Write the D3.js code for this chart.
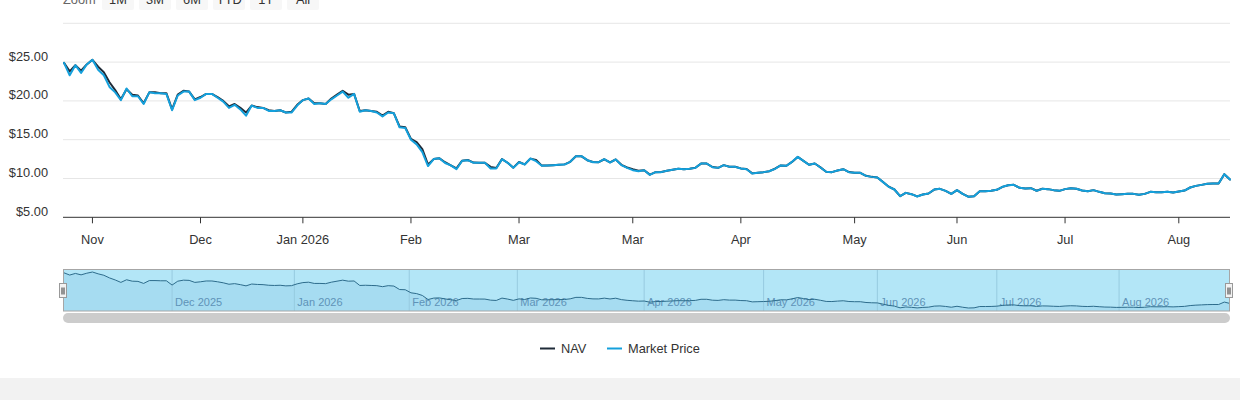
<!DOCTYPE html>
<html>
<head>
<meta charset="utf-8">
<script src="https://cdn.jsdelivr.net/npm/d3@7"></script>
<style>
    html, body { margin: 0; padding: 0; background: #ffffff; }
    #chart { width: 1240px; height: 400px; }
    text { font-family: "Liberation Sans", Arial, sans-serif; }
</style>
</head>
<body>
<div id="chart"></div>
<script>
// ----- DATI (un punto per giorno di borsa) -----
const marketPrice = [
    24.9, 23.3, 24.6, 23.6, 24.7, 25.3, 24.0, 23.3, 21.8, 21.1,
    20.1, 21.6, 20.6, 20.6, 19.6, 21.1, 21.0, 21.0, 20.9, 18.8,
    20.7, 21.2, 21.2, 20.1, 20.4, 20.9, 20.9, 20.4, 19.9, 19.1,
    19.5, 18.9, 18.1, 19.4, 19.1, 19.1, 18.7, 18.7, 18.8, 18.5,
    18.5, 19.4, 20.1, 20.3, 19.6, 19.7, 19.6, 20.2, 20.7, 21.2,
    20.4, 20.9, 18.6, 18.8, 18.7, 18.5, 18.0, 18.5, 18.4, 16.6,
    16.5, 15.0, 14.4, 13.4, 11.6, 12.5, 12.6, 12.0, 11.7, 11.2,
    12.28, 12.36, 12.02, 12.02, 12.02, 11.29, 11.29, 12.49, 12.02, 11.37,
    12.10, 11.80, 12.58, 12.23, 11.63, 11.68, 11.72, 11.76, 11.80, 12.15,
    12.88, 12.88, 12.36, 12.10, 12.10, 12.49, 12.06, 12.45, 11.72, 11.37,
    11.07, 10.94, 11.07, 10.47, 10.82, 10.82, 10.99, 11.12, 11.25, 11.20,
    11.25, 11.37, 11.93, 11.93, 11.46, 11.37, 11.72, 11.50, 11.50, 11.29,
    11.20, 10.64, 10.73, 10.82, 10.94, 11.25, 11.68, 11.63, 12.15, 12.79,
    12.28, 11.76, 11.93, 11.42, 10.86, 10.82, 11.03, 11.20, 10.82, 10.73,
    10.73, 10.34, 10.21, 10.13, 9.53, 8.93, 8.58, 7.72, 8.15, 7.98,
    7.68, 7.94, 8.07, 8.58, 8.67, 8.41, 8.02, 8.50, 8.02, 7.64,
    7.72, 8.37, 8.37, 8.41, 8.54, 8.93, 9.14, 9.18, 8.80, 8.71,
    8.75, 8.41, 8.67, 8.63, 8.50, 8.41, 8.63, 8.75, 8.67, 8.45,
    8.37, 8.50, 8.28, 8.11, 8.07, 7.94, 7.98, 8.02, 8.02, 7.90,
    8.02, 8.28, 8.24, 8.24, 8.28, 8.20, 8.32, 8.45, 8.84, 9.05,
    9.18, 9.31, 9.36, 9.36, 10.56, 9.87
];

const navValues = [
    24.9, 23.8, 24.6, 23.9, 24.7, 25.3, 24.4, 23.7, 22.4, 21.4,
    20.2, 21.5, 20.8, 20.7, 19.7, 21.1, 21.1, 21.0, 21.0, 18.9,
    20.8, 21.3, 21.2, 20.2, 20.5, 20.9, 20.9, 20.5, 20.0, 19.3,
    19.6, 19.1, 18.5, 19.4, 19.2, 19.1, 18.8, 18.7, 18.8, 18.5,
    18.6, 19.5, 20.1, 20.3, 19.7, 19.7, 19.6, 20.3, 20.8, 21.3,
    20.8, 20.9, 18.7, 18.8, 18.7, 18.6, 18.1, 18.6, 18.4, 16.7,
    16.6, 15.1, 14.7, 13.8, 11.8, 12.5, 12.6, 12.1, 11.7, 11.3,
    12.30, 12.38, 12.05, 12.04, 12.02, 11.50, 11.35, 12.50, 12.03, 11.40,
    12.12, 11.82, 12.56, 12.40, 11.66, 11.68, 11.72, 11.77, 11.82, 12.15,
    12.86, 12.86, 12.36, 12.12, 12.10, 12.48, 12.08, 12.45, 11.76, 11.42,
    11.20, 11.00, 11.07, 10.50, 10.82, 10.84, 10.99, 11.12, 11.26, 11.20,
    11.26, 11.38, 11.92, 11.92, 11.48, 11.38, 11.72, 11.52, 11.52, 11.30,
    11.22, 10.66, 10.74, 10.82, 10.94, 11.26, 11.68, 11.64, 12.14, 12.78,
    12.28, 11.77, 11.93, 11.43, 10.87, 10.82, 11.03, 11.20, 10.83, 10.73,
    10.73, 10.35, 10.21, 10.14, 9.54, 8.94, 8.58, 7.73, 8.15, 7.98,
    7.69, 7.94, 8.07, 8.57, 8.67, 8.41, 8.03, 8.50, 8.03, 7.65,
    7.72, 8.37, 8.37, 8.41, 8.54, 8.92, 9.13, 9.18, 8.80, 8.71,
    8.75, 8.42, 8.67, 8.63, 8.50, 8.41, 8.63, 8.75, 8.67, 8.45,
    8.37, 8.50, 8.28, 8.11, 8.07, 7.94, 7.98, 8.02, 8.02, 7.90,
    8.02, 8.28, 8.24, 8.24, 8.28, 8.20, 8.32, 8.45, 8.84, 9.05,
    9.18, 9.31, 9.36, 9.36, 10.56, 9.87
];

// assi
const yTicks = [5, 10, 15, 20, 25, 30];
const xTickIdx = [5, 24, 42, 61, 80, 100, 119, 139, 157, 176, 196];
const xTickLabels = ['Nov', 'Dec', 'Jan 2026', 'Feb', 'Mar', 'Mar', 'Apr', 'May', 'Jun', 'Jul', 'Aug'];

// navigator
const navMonthIdx = [19, 40.5, 60.7, 79.7, 102, 123, 143, 164, 185.5];
const navMonthLabels = ['Dec 2025', 'Jan 2026', 'Feb 2026', 'Mar 2026', 'Apr 2026', 'May 2026', 'Jun 2026', 'Jul 2026', 'Aug 2026'];

const zoomButtons = ['1M', '3M', '6M', 'YTD', '1Y', 'All'];
const seriesNames = ['NAV', 'Market Price'];
const seriesColors = ['#1f2b38', '#14a0dc'];

// ----- COSTRUZIONE -----
const W = 1240, H = 400;
const plotLeft = 63, plotRight = 1230, plotTop = 23.3, plotBottom = 217.3;

const svg = d3.select('#chart')
    .append('svg')
    .attr('width', W)
    .attr('height', H);

// sfondo pagina sotto il grafico
svg.append('rect').attr('x', 0).attr('y', 378).attr('width', W).attr('height', H - 378).attr('fill', '#f2f2f2');

const x = d3.scaleLinear()
    .domain([0, marketPrice.length - 1])
    .range([64, 1230]);

const y = d3.scaleLinear()
    .domain([5, 30])
    .range([plotBottom, plotTop]);

// bottoni zoom (tagliati in alto)
svg.append('text')
    .attr('x', 63).attr('y', 4)
    .attr('font-size', 12.8).attr('fill', '#666666')
    .text('Zoom');

const btn = svg.append('g')
    .selectAll('g')
    .data(zoomButtons)
    .join('g')
    .attr('transform', (d, i) => `translate(${102 + i * 37}, 0)`);
btn.append('rect')
    .attr('x', 0).attr('y', -14).attr('width', 32).attr('height', 24).attr('rx', 2)
    .attr('fill', '#f7f7f7');
btn.append('text')
    .attr('x', 16).attr('y', 4)
    .attr('text-anchor', 'middle').attr('font-size', 12.8).attr('fill', '#333333')
    .text(d => d);

// griglia orizzontale
svg.append('g')
    .selectAll('line')
    .data(yTicks.filter(d => d > 5))
    .join('line')
    .attr('x1', plotLeft).attr('x2', plotRight)
    .attr('y1', d => y(d)).attr('y2', d => y(d))
    .attr('stroke', '#e6e6e6').attr('stroke-width', 1);

// etichette asse y (l'ultima non viene mostrata)
svg.append('g')
    .selectAll('text')
    .data(yTicks.slice(0, -1))
    .join('text')
    .attr('x', 48)
    .attr('y', d => y(d) - 1.5)
    .attr('text-anchor', 'end')
    .attr('font-size', 12.8)
    .attr('fill', '#333333')
    .text(d => '$' + d3.format('.2f')(d));

// serie
const line = d3.line()
    .x((d, i) => x(i))
    .y(d => y(d));

const series = [navValues, marketPrice];
svg.append('g')
    .selectAll('path')
    .data(series)
    .join('path')
    .attr('d', d => line(d))
    .attr('fill', 'none')
    .attr('stroke', (d, i) => seriesColors[i])
    .attr('stroke-width', 2)
    .attr('stroke-linejoin', 'round')
    .attr('stroke-linecap', 'round');

// asse x
svg.append('line')
    .attr('x1', plotLeft).attr('x2', plotRight)
    .attr('y1', plotBottom).attr('y2', plotBottom)
    .attr('stroke', '#333333').attr('stroke-width', 1);

const xt = svg.append('g')
    .selectAll('g')
    .data(xTickIdx)
    .join('g')
    .attr('transform', d => `translate(${x(d)}, 0)`);
xt.append('line')
    .attr('y1', plotBottom).attr('y2', plotBottom + 6)
    .attr('stroke', '#333333').attr('stroke-width', 1);
xt.append('text')
    .attr('y', 244)
    .attr('text-anchor', 'middle')
    .attr('font-size', 12.8)
    .attr('fill', '#333333')
    .text((d, i) => xTickLabels[i]);

// ----- NAVIGATOR -----
const navTop = 269.5, navBottom = 311;
const navY = d3.scaleLinear()
    .domain([d3.min(navValues), d3.max(navValues)])
    .range([308, 272]);

svg.append('rect')
    .attr('x', plotLeft).attr('y', navTop)
    .attr('width', plotRight - plotLeft).attr('height', navBottom - navTop)
    .attr('fill', '#b3e6f7');

const navArea = d3.area()
    .x((d, i) => x(i))
    .y0(navBottom)
    .y1(d => navY(d));
svg.append('path')
    .attr('d', navArea(navValues))
    .attr('fill', '#a6dcf1');

svg.append('g')
    .selectAll('line')
    .data(navMonthIdx)
    .join('line')
    .attr('x1', d => x(d)).attr('x2', d => x(d))
    .attr('y1', navTop).attr('y2', navBottom)
    .attr('stroke', '#97cbe0').attr('stroke-width', 1);

svg.append('g')
    .selectAll('text')
    .data(navMonthIdx)
    .join('text')
    .attr('x', d => x(d) + 3)
    .attr('y', 306)
    .attr('font-size', 11)
    .attr('fill', '#5f93b8')
    .text((d, i) => navMonthLabels[i]);

const navLine = d3.line()
    .x((d, i) => x(i))
    .y(d => navY(d));
svg.append('path')
    .attr('d', navLine(navValues))
    .attr('fill', 'none')
    .attr('stroke', '#2d6c8c')
    .attr('stroke-width', 1);

// bordo navigator
svg.append('rect')
    .attr('x', plotLeft + 0.5).attr('y', navTop)
    .attr('width', plotRight - plotLeft - 1).attr('height', navBottom - navTop)
    .attr('fill', 'none')
    .attr('stroke', '#a6a6a6').attr('stroke-width', 1);

// maniglie
const handles = svg.append('g')
    .selectAll('g')
    .data([plotLeft, plotRight - 1])
    .join('g')
    .attr('transform', d => `translate(${d - 4}, 283.5)`);
handles.append('rect')
    .attr('x', 0.5).attr('y', 0).attr('width', 7).attr('height', 14)
    .attr('fill', '#f2f2f2').attr('stroke', '#999999').attr('stroke-width', 1);
handles.append('path')
    .attr('d', 'M3,4V11M5,4V11')
    .attr('stroke', '#333333').attr('stroke-width', 1);

// scrollbar
svg.append('rect')
    .attr('x', plotLeft).attr('y', 313)
    .attr('width', plotRight - plotLeft).attr('height', 10).attr('rx', 5)
    .attr('fill', '#cccccc');

// ----- LEGENDA -----
const legendX = [540, 607];
const leg = svg.append('g')
    .selectAll('g')
    .data(seriesNames)
    .join('g')
    .attr('transform', (d, i) => `translate(${legendX[i]}, 348.5)`);
leg.append('line')
    .attr('x1', 0).attr('x2', 15)
    .attr('stroke', (d, i) => seriesColors[i]).attr('stroke-width', 2);
leg.append('text')
    .attr('x', 21).attr('y', 4.5)
    .attr('font-size', 12.8)
    .attr('fill', '#333333')
    .text(d => d);
</script>
</body>
</html>
